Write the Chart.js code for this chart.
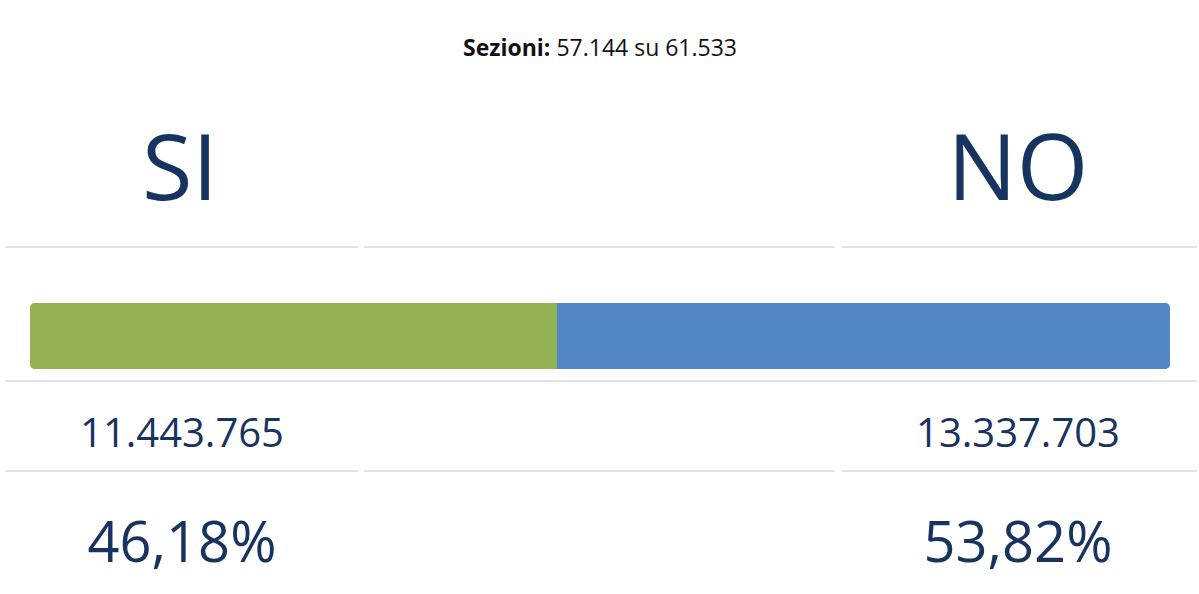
<!DOCTYPE html>
<html><head><meta charset="utf-8">
<script src="https://cdn.jsdelivr.net/npm/chart.js@4"></script>
<style>
body{margin:0;width:1199px;height:594px;background:#fff;font-family:"Open Sans",sans-serif;color:#17335f;position:relative;overflow:hidden}
.t{position:absolute;white-space:nowrap;transform:translateX(-50%)}
.line{position:absolute;height:2px;background:#e3e3e3}
#wrap{position:absolute;left:30px;top:303px;width:1140px;height:66px}
</style></head><body>
<div class="t" style="left:600px;top:31px;font-size:23px;color:#111"><b>Sezioni:</b> <span id="sez"></span></div>
<div class="t" id="l0" style="left:180px;top:102px;font-size:92px;font-weight:400"></div>
<div class="t" id="l1" style="left:1018px;top:102px;font-size:92px;font-weight:400"></div>
<div class="line" style="left:5px;width:353px;top:246px"></div>
<div class="line" style="left:364px;width:471px;top:246px"></div>
<div class="line" style="left:842px;width:355px;top:246px"></div>
<div id="wrap"><canvas id="c"></canvas></div>
<div class="line" style="left:5px;width:1192px;top:380px"></div>
<div class="t" id="v0" style="left:182px;top:404px;font-size:40px"></div>
<div class="t" id="v1" style="left:1018px;top:404px;font-size:40px"></div>
<div class="line" style="left:5px;width:353px;top:470px"></div>
<div class="line" style="left:364px;width:471px;top:470px"></div>
<div class="line" style="left:842px;width:355px;top:470px"></div>
<div class="t" id="p0" style="left:182px;top:502px;font-size:56px"></div>
<div class="t" id="p1" style="left:1018px;top:502px;font-size:56px"></div>
<script>
const labels = ["SI", "NO"];
const votes = ["11.443.765", "13.337.703"];
const percents = [46.18, 53.82];
const colors = ["#93b252", "#5487c8"];
const sezioni = "57.144 su 61.533";

document.getElementById("sez").textContent = sezioni;
labels.forEach((l, i) => {
  document.getElementById("l" + i).textContent = l;
  document.getElementById("v" + i).textContent = votes[i];
  document.getElementById("p" + i).textContent = percents[i].toFixed(2).replace(".", ",") + "%";
});

new Chart(document.getElementById("c"), {
  type: "bar",
  data: {
    labels: [""],
    datasets: labels.map((l, i) => ({
      label: l,
      data: [percents[i]],
      backgroundColor: colors[i],
      borderSkipped: false,
      borderRadius: i === 0
        ? { topLeft: 6, bottomLeft: 6, topRight: 0, bottomRight: 0 }
        : { topLeft: 0, bottomLeft: 0, topRight: 6, bottomRight: 6 },
      barPercentage: 1,
      categoryPercentage: 1
    }))
  },
  options: {
    indexAxis: "y",
    responsive: true,
    maintainAspectRatio: false,
    animation: false,
    layout: { padding: 0 },
    plugins: { legend: { display: false }, tooltip: { enabled: false } },
    scales: {
      x: { stacked: true, min: 0, max: 100, display: false },
      y: { stacked: true, display: false }
    }
  }
});
</script>
</body></html>
